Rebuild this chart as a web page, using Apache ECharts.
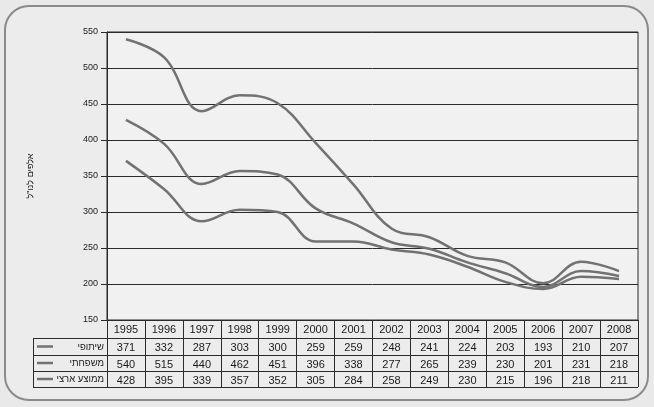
<!DOCTYPE html>
<html><head><meta charset="utf-8">
<script src="https://cdn.jsdelivr.net/npm/echarts@6/dist/echarts.min.js"></script>
<style>html,body{margin:0;padding:0;background:#e9e9e9;}#c{width:654px;height:407px;}</style>
</head><body><div id="c"></div>
<script>
const years = ['1995','1996','1997','1998','1999','2000','2001','2002','2003','2004','2005','2006','2007','2008'];
const seriesNames = ['שיתופי', 'משפחתי', 'ממוצע ארצי'];
const shitufi = [371,332,287,303,300,259,259,248,241,224,203,193,210,207];
const mishpachti = [540,515,440,462,451,396,338,277,265,239,230,201,231,218];
const memutza = [428,395,339,357,352,305,284,258,249,230,215,196,218,211];
const yTicks = {min:150, max:550, interval:50};
const yTitle = 'אלפים לנו"ל';

const rows = [shitufi, mishpachti, memutza];
const lineColor = '#727272';
const gridCol = '#2b2b2b';
const FONT = 'Liberation Sans, Arial, sans-serif';

const gTop = 32, gLeft = 107, gRight = 16, gBottom = 87;
const rowOffsets = [0, 18, 35, 51];
const rowH = [18, 17, 16, 16];
const tableLeft = 33;
const baseY = 407 - gBottom;

function mkX(idx){
  const isHead = idx === 0;
  return {
    type:'category', data: years, gridIndex:0, position:'bottom', offset: rowOffsets[idx],
    boundaryGap:true,
    axisLine:{show:true, lineStyle:{color:gridCol, width:1}},
    axisTick:{show:true, interval:0, length: rowH[idx], inside:false, lineStyle:{color:gridCol, width:1}},
    axisLabel:{show:true, interval:0, margin:4, color:'#1a1a1a', fontFamily:FONT, fontSize:11,
      formatter: isHead ? (v)=>v : (v,i)=>String(rows[idx-1][i])},
    splitLine:{show:false}
  };
}

const graphics = [
  {type:'rect', z:-10, shape:{x:5, y:6, width:643, height:394, r:24},
   style:{fill:'#ececec', stroke:'#8a8a8a', lineWidth:2}},
];
const rowTops = rowOffsets.map(o => baseY + o);
const tableBottom = baseY + 67;
const hLines = [rowTops[1], rowTops[2], rowTops[3], tableBottom];
hLines.forEach(y => graphics.push({type:'line', z:5, shape:{x1:tableLeft, y1:y+0.5, x2:gLeft, y2:y+0.5}, style:{stroke:gridCol, lineWidth:1}}));
graphics.push({type:'line', z:5, shape:{x1:gLeft, y1:tableBottom+0.5, x2:654-gRight, y2:tableBottom+0.5}, style:{stroke:gridCol, lineWidth:1}});
graphics.push({type:'line', z:5, shape:{x1:tableLeft+0.5, y1:rowTops[1], x2:tableLeft+0.5, y2:tableBottom}, style:{stroke:gridCol, lineWidth:1}});
seriesNames.forEach((n,i)=>{
  const top = rowTops[i+1];
  const bot = (i<2) ? rowTops[i+2] : tableBottom;
  const mid = (top+bot)/2;
  graphics.push({type:'line', z:5, shape:{x1:37, y1:mid, x2:53, y2:mid}, style:{stroke:lineColor, lineWidth:2.5}});
  graphics.push({type:'text', z:5, x:104, y:mid+0.5, style:{text:n, fill:'#1a1a1a', font:'9.5px '+FONT, textAlign:'right', textVerticalAlign:'middle'}});
});

const chart = echarts.init(document.getElementById('c'), null, {renderer:'canvas'});
chart.setOption({
  backgroundColor:'#e9e9e9',
  animation:false,
  grid:{left:gLeft, right:gRight, top:gTop, bottom:gBottom, show:true, backgroundColor:'#f1f1f1', borderColor:gridCol, borderWidth:1},
  xAxis:[mkX(0), mkX(1), mkX(2), mkX(3)],
  yAxis:{type:'value', min:yTicks.min, max:yTicks.max, interval:yTicks.interval,
    name:yTitle, nameLocation:'middle', nameRotate:90, nameGap:72,
    nameTextStyle:{fontFamily:FONT, fontSize:9, color:'#222'},
    axisLine:{show:true, lineStyle:{color:gridCol}},
    axisTick:{show:true, length:6, lineStyle:{color:gridCol}},
    axisLabel:{fontFamily:FONT, fontSize:9, color:'#1a1a1a', margin:9},
    splitLine:{show:true, lineStyle:{color:gridCol, width:1}}},
  series: rows.map((d,i)=>({type:'line', name:seriesNames[i], data:d, xAxisIndex:0, smooth:0.4,
    showSymbol:false, symbol:'none', lineStyle:{color:lineColor, width:2.5}, z:3})),
  graphic: graphics
});
</script></body></html>
